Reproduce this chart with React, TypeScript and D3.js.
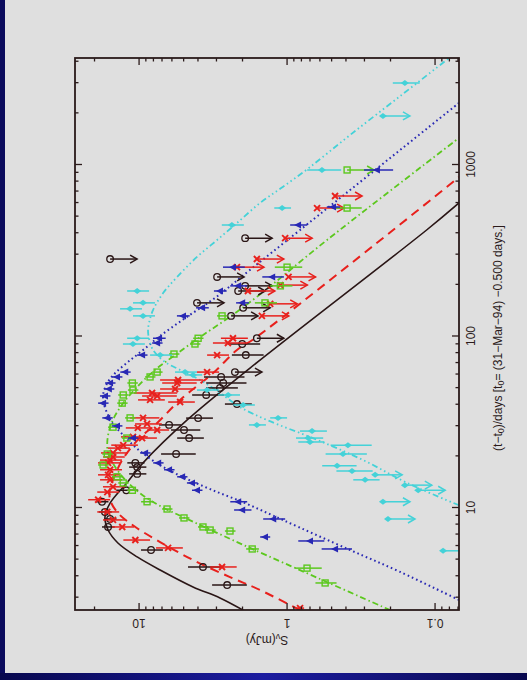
import React, { useEffect, useRef } from "react";
import * as d3 from "d3";

// axis ranges (days since t0, mJy)
const timeDomain = [2.525, 4178];
const fluxDomain = [27.1, 0.0689];
const timeTickLabels = ["10", "100", "1000"];
const fluxTickLabels = ["10", "1", "0.1"];

// model light curves: [t, S]
const modelBlack = [
  [2.52, 1.98], [2.97, 2.84], [3.44, 4.32], [4.32, 7.21], [5.15, 10.3], [6.21, 13.9],
  [7.39, 16.2], [8.8, 17.0], [10.6, 15.7], [13.9, 12.1], [18.2, 9.4], [32.4, 4.73],
  [65.0, 1.78], [415, 0.114], [597, 0.0689],
];
const modelRed = [
  [2.52, 0.817], [3.3, 1.52], [3.93, 2.43], [4.94, 4.32], [6.29, 7.21], [7.7, 10.6],
  [9.29, 13.9], [11.1, 15.7], [13.0, 15.7], [14.5, 15.0], [18.9, 13.0], [24.8, 10.2],
  [31.1, 7.55], [42.4, 5.28], [60.8, 3.16], [82.8, 2.18], [97, 1.65], [415, 0.192], [845, 0.0689],
];
const modelGreen = [
  [2.52, 0.201], [3.83, 0.599], [5.81, 1.78], [7.19, 3.06], [8.69, 4.89], [10.2, 7.21],
  [12.1, 9.84], [14.5, 12.4], [17.2, 14.5], [20.8, 16.2], [24.1, 16.4], [28.3, 15.9],
  [33.3, 14.8], [40.6, 12.8], [50.5, 10.3], [63.4, 7.8], [77.4, 5.71], [98.6, 3.87],
  [127, 2.51], [169, 1.6], [363, 0.537], [1429, 0.0689],
];
const modelBlue = [
  [2.89, 0.0689], [4.21, 0.172], [5.65, 0.375], [8.46, 1.07], [10.6, 1.92], [12.8, 3.31],
  [15.3, 5.28], [18.4, 7.8], [22.5, 10.6], [26.8, 13.0], [30.7, 15.0], [34.6, 16.2],
  [39.6, 17.2], [45.3, 17.5], [53.2, 16.4], [60.8, 14.5], [70.5, 11.9], [82.8, 9.4],
  [100, 7.21], [127, 4.89], [167, 3.06], [243, 1.78], [415, 0.817], [2286, 0.0689],
];
const modelCyan = [
  [10.3, 0.0689], [13.9, 0.154], [18.9, 0.306], [24.8, 0.626], [32.4, 1.37], [38.5, 2.08],
  [46.6, 2.84], [55.4, 3.87], [63.4, 5.28], [70.5, 6.67], [82.8, 8.04], [96, 8.55],
  [107, 8.7], [120, 8.55], [142, 8.04], [178, 6.88], [221, 5.53], [289, 4.06], [363, 2.97], [456, 2.18],
  [597, 1.52], [739, 1.07], [966, 0.7], [1486, 0.375], [2506, 0.172], [4178, 0.0803],
];

// detections: [t, S, err]
const dataBlack = [
  [89.8, 2.01, 0.49], [77.4, 1.9, 0.46], [57.7, 2.79, 0.85], [53.2, 2.7, 0.82], [49.8, 2.84, 0.69],
  [45.3, 3.52, 0.86], [40.1, 2.18, 0.45], [33.2, 3.99, 0.82], [30.3, 6.27, 1.06], [28.3, 4.97, 1.11],
  [25.4, 4.59, 0.94], [20.5, 5.62, 1.48], [18.2, 10.6, 1.41], [17.2, 10.3, 1.37], [15.7, 10.3, 1.37],
  [12.6, 12.2, 2.06], [10.8, 17.8, 1.7], [9.42, 17.0, 1.7], [8.57, 15.7, 1.5], [7.7, 16.2, 1.6],
  [5.65, 8.3, 1.4], [4.5, 3.7, 0.97], [3.53, 2.54, 0.67],
];
const dataRed = [
  [97, 2.32, 0.48], [91, 2.51, 0.66], [77.4, 2.97, 0.5], [61.6, 3.47, 0.59], [55.4, 5.45, 1.76],
  [53.2, 5.53, 1.45], [49.1, 5.71, 1.5], [46.5, 8.17, 2.64], [44.7, 7.55, 1.99], [42.4, 8.43, 1.73],
  [41.2, 5.28, 1.08], [33.3, 9.4, 2.11], [30.7, 8.83, 1.81], [29.1, 10.2, 2.09], [28.3, 7.55, 1.28],
  [25.8, 11.0, 2.26], [25.4, 9.54, 1.96], [23.1, 12.8, 2.62], [22.2, 13.9, 2.35], [20.8, 15.0, 3.08],
  [19.7, 15.0, 2.5], [18.9, 15.7, 2.65], [18.2, 16.2, 2.74], [16.6, 15.7, 2.65], [15.5, 16.2, 2.74],
  [14.5, 15.7, 2.65], [13.2, 15.0, 2.54], [12.3, 16.4, 2.77], [11.1, 18.9, 3.19], [9.42, 16.4, 2.77],
  [8.46, 15.0, 2.54], [7.7, 13.0, 2.2], [6.46, 10.6, 2.17], [5.81, 6.37, 1.31], [4.5, 2.75, 0.56],
  [2.59, 0.817, 0.05],
];
const dataGreen = [
  [557, 0.393, 0.08], [252, 1.0, 0.21], [196, 1.11, 0.19], [156, 1.41, 0.24], [131, 2.75, 0.22],
  [97, 3.99, 0.32], [89.8, 4.19, 0.34], [78.5, 5.81, 0.47], [61.6, 7.55, 0.61], [57.7, 8.43, 0.68],
  [53.2, 11.1, 0.9], [48.4, 11.0, 0.89], [45.3, 12.8, 1.04], [40.6, 13.0, 1.05], [33.3, 11.5, 0.93],
  [29.4, 15.0, 1.2], [25.4, 12.1, 0.98], [20.5, 16.4, 1.33], [17.7, 17.5, 1.42], [15.1, 14.1, 1.14],
  [13.9, 12.8, 1.04], [12.6, 11.1, 0.9], [10.8, 8.83, 0.86], [9.8, 6.47, 0.52], [8.69, 4.97, 0.4],
  [7.7, 3.7, 0.3], [7.39, 3.31, 0.27], [7.29, 2.43, 0.2], [5.73, 1.72, 0.17], [4.43, 0.733, 0.15],
  [3.63, 0.553, 0.09],
];
const dataBlue = [
  [929, 0.247, 0.055], [565, 0.489, 0.05], [444, 0.843, 0.11], [252, 2.32, 0.39], [221, 1.26, 0.21],
  [196, 2.14, 0.28], [183, 2.84, 0.28], [156, 2.01, 0.2], [146, 3.75, 0.37], [131, 5.05, 0.5],
  [97, 7.33, 0.72], [91, 7.55, 0.61], [77.4, 9.54, 0.77], [61.6, 12.4, 1.0], [57.7, 14.1, 1.14],
  [53.2, 15.7, 1.27], [49.1, 16.0, 1.3], [44.7, 17.0, 1.38], [40.6, 17.5, 1.42], [33.3, 16.4, 1.33],
  [29.9, 14.1, 1.14], [25.4, 11.0, 0.89], [20.8, 9.1, 0.74], [18.2, 7.43, 0.6], [16.6, 6.27, 0.51],
  [15.1, 5.12, 0.41], [13.9, 4.39, 0.36], [12.6, 4.06, 0.33], [10.8, 2.14, 0.28], [9.67, 2.01, 0.27],
  [8.57, 1.24, 0.21], [6.73, 1.41, 0.11], [6.38, 0.7, 0.14], [5.73, 0.474, 0.11],
];
const dataCyan = [
  [2985, 0.16, 0.033], [929, 0.581, 0.15], [557, 1.08, 0.14], [444, 2.36, 0.4], [183, 10.3, 1.74],
  [156, 9.4, 1.59], [144, 11.5, 1.94], [131, 9.4, 1.59], [97, 10.3, 1.74], [89.8, 11.0, 1.86],
  [77.4, 7.21, 1.22], [61.6, 4.89, 0.83], [59.3, 4.32, 0.57], [48.4, 3.47, 0.59], [45.3, 2.5, 0.42],
  [39.6, 1.98, 0.33], [30.3, 1.6, 0.21], [33.3, 1.15, 0.15], [27.9, 0.678, 0.14], [25.4, 0.72, 0.15],
  [24.1, 0.7, 0.14], [23.1, 0.388, 0.12], [20.5, 0.419, 0.13], [17.5, 0.459, 0.12], [16.3, 0.364, 0.1],
  [14.5, 0.297, 0.06],
];

// upper limits: [t, S]
const limBlack = [
  [281, 15.7], [372, 1.92], [221, 2.97], [196, 1.92], [183, 2.14], [156, 4.06], [146, 1.98],
  [131, 2.39], [97, 1.6], [61.6, 2.25],
];
const limRed = [
  [655, 0.474], [557, 0.627], [372, 1.03], [281, 1.6], [252, 2.18], [221, 0.977], [198, 1.11],
  [183, 1.84], [154, 1.3], [131, 1.48],
];
const limGreen = [[929, 0.393]];
const limBlue: number[][] = [];
const limCyan = [
  [1919, 0.225], [15.5, 0.254], [13.5, 0.16], [12.6, 0.13], [10.8, 0.225], [8.57, 0.208], [5.59, 0.0883],
];

const series = [
  { color: "#2a1616", dash: null, width: 1.6, marker: "circle", model: modelBlack, data: dataBlack, lims: limBlack },
  { color: "#e8201c", dash: "9,6", width: 2, marker: "cross", model: modelRed, data: dataRed, lims: limRed },
  { color: "#5cc81e", dash: "6,3,1.5,3", width: 1.8, marker: "square", model: modelGreen, data: dataGreen, lims: limGreen },
  { color: "#2828b4", dash: "1.6,3", width: 2, marker: "triangle", model: modelBlue, data: dataBlue, lims: limBlue },
  { color: "#44d2d8", dash: "6,3,1.5,3,1.5,3,1.5,3", width: 1.8, marker: "diamond", model: modelCyan, data: dataCyan, lims: limCyan },
];

function drawMarker(g: any, kind: string, cx: number, cy: number, color: string) {
  if (kind === "circle") {
    g.append("circle").attr("cx", cx).attr("cy", cy).attr("r", 3.3)
      .attr("fill", "none").attr("stroke", color).attr("stroke-width", 1.3);
  } else if (kind === "square") {
    g.append("rect").attr("x", cx - 3).attr("y", cy - 3).attr("width", 6).attr("height", 6)
      .attr("fill", "none").attr("stroke", color).attr("stroke-width", 1.4);
  } else if (kind === "cross") {
    g.append("path").attr("d", `M${cx - 3},${cy - 3}L${cx + 3},${cy + 3}M${cx - 3},${cy + 3}L${cx + 3},${cy - 3}`)
      .attr("stroke", color).attr("stroke-width", 1.9);
  } else if (kind === "triangle") {
    g.append("path").attr("d", `M${cx},${cy - 4}L${cx + 3.5},${cy + 3}L${cx - 3.5},${cy + 3}Z`).attr("fill", color);
  } else {
    g.append("path").attr("d", `M${cx},${cy - 4}L${cx + 3},${cy}L${cx},${cy + 4}L${cx - 3},${cy}Z`).attr("fill", color);
  }
}

export default function App() {
  const ref = useRef<SVGSVGElement>(null);

  useEffect(() => {
    const svg = d3.select(ref.current);
    svg.selectAll("*").remove();

    const W = 552, H = 384;
    const ink = "#2b1b1b";

    const defs = svg.append("defs");
    const grad = defs.append("linearGradient").attr("id", "band");
    grad.append("stop").attr("offset", "0%").attr("stop-color", "#08084e");
    grad.append("stop").attr("offset", "50%").attr("stop-color", "#1c1ca0");
    grad.append("stop").attr("offset", "100%").attr("stop-color", "#08084e");
    defs.append("clipPath").attr("id", "plotclip")
      .append("rect").attr("width", W).attr("height", H);

    svg.append("rect").attr("width", 527).attr("height", 680).attr("fill", "#dfdfdf");
    svg.append("rect").attr("width", 5).attr("height", 680).attr("fill", "#0a0a5c");
    svg.append("rect").attr("y", 673).attr("width", 527).attr("height", 7).attr("fill", "url(#band)");

    // the plot is drawn upright and turned a quarter turn
    const g = svg.append("g").attr("transform", "translate(75,610) rotate(-90)");

    const x = d3.scaleLog().domain(timeDomain).range([0, W]);
    const y = d3.scaleLog().domain(fluxDomain).range([0, H]);

    const line = d3.line<number[]>()
      .x(d => x(d[0]))
      .y(d => y(d[1]))
      .curve(d3.curveCatmullRom.alpha(0.5));

    const plot = g.append("g").attr("clip-path", "url(#plotclip)");

    series.forEach(s => {
      const pts = s.model.slice().sort((a, b) => a[0] - b[0]);
      const p = plot.append("path").attr("d", line(pts)).attr("fill", "none")
        .attr("stroke", s.color).attr("stroke-width", s.width);
      if (s.dash) p.attr("stroke-dasharray", s.dash);
    });

    series.forEach(s => {
      s.data.forEach(d => {
        const cx = x(d[0]), cy = y(d[1]);
        const lo = Math.max(d[1] - d[2], 0.01);
        plot.append("line").attr("x1", cx).attr("x2", cx)
          .attr("y1", y(d[1] + d[2])).attr("y2", y(lo))
          .attr("stroke", s.color).attr("stroke-width", 1.5);
        drawMarker(plot, s.marker, cx, cy, s.color);
      });
      s.lims.forEach(d => {
        const cx = x(d[0]), cy = y(d[1]);
        const ey = cy + 27;
        plot.append("line").attr("x1", cx).attr("x2", cx).attr("y1", cy).attr("y2", ey)
          .attr("stroke", s.color).attr("stroke-width", 1.5);
        plot.append("path").attr("d", `M${cx - 4},${ey - 7}L${cx},${ey}L${cx + 4},${ey - 7}`)
          .attr("fill", "none").attr("stroke", s.color).attr("stroke-width", 1.5);
        drawMarker(plot, s.marker, cx, cy, s.color);
      });
    });

    // frame and ticks
    g.append("rect").attr("width", W).attr("height", H).attr("fill", "none")
      .attr("stroke", ink).attr("stroke-width", 1.8);

    const isMajor = (v: number) => Math.abs(Math.log10(v) - Math.round(Math.log10(v))) < 1e-6;

    x.ticks().forEach(t => {
      const len = isMajor(t) ? 7 : 3.5;
      const px = x(t);
      g.append("line").attr("x1", px).attr("x2", px).attr("y1", H).attr("y2", H - len)
        .attr("stroke", ink).attr("stroke-width", 1.3);
      g.append("line").attr("x1", px).attr("x2", px).attr("y1", 0).attr("y2", len)
        .attr("stroke", ink).attr("stroke-width", 1.3);
    });
    y.ticks().forEach(v => {
      const len = isMajor(v) ? 7 : 3.5;
      const py = y(v);
      g.append("line").attr("x1", 0).attr("x2", len).attr("y1", py).attr("y2", py)
        .attr("stroke", ink).attr("stroke-width", 1.3);
      g.append("line").attr("x1", W).attr("x2", W - len).attr("y1", py).attr("y2", py)
        .attr("stroke", ink).attr("stroke-width", 1.3);
    });

    const font = "'Liberation Sans', Arial, sans-serif";

    timeTickLabels.forEach(lbl => {
      g.append("text").attr("x", x(+lbl)).attr("y", H + 12)
        .attr("text-anchor", "middle").attr("dominant-baseline", "central")
        .attr("font-family", font).attr("font-size", 12).attr("fill", ink).text(lbl);
    });
    fluxTickLabels.forEach(lbl => {
      g.append("text").attr("transform", `translate(-13,${y(+lbl)}) rotate(-90)`)
        .attr("text-anchor", "middle").attr("dominant-baseline", "central")
        .attr("font-family", font).attr("font-size", 12).attr("fill", ink).text(lbl);
    });

    const ft = g.append("text").attr("transform", `translate(-30,${H / 2}) rotate(-90)`)
      .attr("text-anchor", "middle").attr("dominant-baseline", "central")
      .attr("font-family", font).attr("font-size", 12).attr("fill", ink);
    ft.append("tspan").text("S");
    ft.append("tspan").attr("dy", 3).attr("font-size", 9).text("ν");
    ft.append("tspan").attr("dy", -3).text("(mJy)");

    const tt = g.append("text").attr("x", 272).attr("y", H + 39)
      .attr("text-anchor", "middle").attr("dominant-baseline", "central")
      .attr("font-family", font).attr("font-size", 12).attr("fill", ink);
    tt.append("tspan").text("(t\u2212t");
    tt.append("tspan").attr("dy", 3).attr("font-size", 9).text("0");
    tt.append("tspan").attr("dy", -3).text(")/days  [t");
    tt.append("tspan").attr("dy", 3).attr("font-size", 9).text("0");
    tt.append("tspan").attr("dy", -3).text("= (31\u2212Mar\u221294)  \u22120.500 days.]");
  }, []);

  return (
    <svg ref={ref} width={527} height={680}
      style={{ position: "absolute", left: 0, top: 0, display: "block" }} />
  );
}
